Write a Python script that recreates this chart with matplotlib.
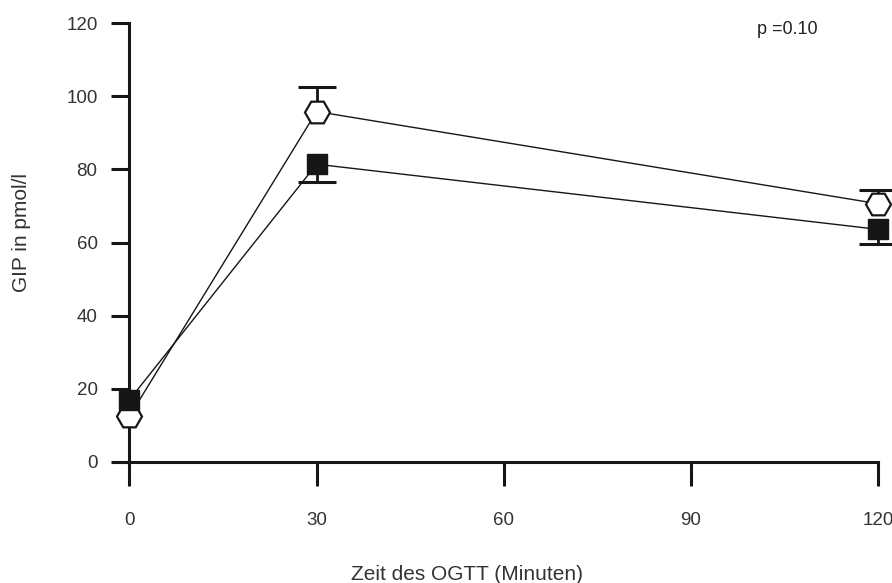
import numpy as np
import matplotlib.pyplot as plt

plt.rcParams['font.family'] = ['Liberation Sans', 'DejaVu Sans']

# OGTT time points (minutes)
zeit = [0, 30, 120]

# open hexagons
gip_open = [12.5, 95.8, 70.6]
err_open = [0.0, 6.8, 3.8]

# filled squares
gip_filled = [17.0, 81.4, 63.6]
err_filled = [0.0, 4.9, 4.0]

xticks = [0, 30, 60, 90, 120]
yticks = [0, 20, 40, 60, 80, 100, 120]

fig = plt.figure(figsize=(8.92, 5.83), dpi=100)
ax = fig.add_axes([117/892, 1 - 462/583, (878 - 117)/892, (462 - 23)/583])

ink = '#161616'

# one-sided error bars (no bar visible at t=0)
eb = ax.errorbar(zeit[1:], gip_open[1:], yerr=[np.zeros(2), err_open[1:]],
                 fmt='none', ecolor=ink, elinewidth=2.0, capsize=13.5,
                 capthick=2.2, clip_on=False, zorder=2)
eb[1][0].set_visible(False)
eb = ax.errorbar(zeit[1:], gip_filled[1:], yerr=[err_filled[1:], np.zeros(2)],
                 fmt='none', ecolor=ink, elinewidth=2.0, capsize=13.5,
                 capthick=2.2, clip_on=False, zorder=2)
eb[1][1].set_visible(False)

ax.plot(zeit, gip_open, color=ink, lw=1.0, marker='H', ms=18,
        mfc='white', mec=ink, mew=1.6, clip_on=False, zorder=3)
ax.plot(zeit, gip_filled, color=ink, lw=1.0, marker='s', ms=14.5,
        mfc=ink, mec=ink, mew=1.0, clip_on=False, zorder=4)

ax.set_xlim(-2, 120)
ax.set_ylim(0, 120)
ax.spines['left'].set_position(('data', 0))
ax.spines['right'].set_visible(False)
ax.spines['top'].set_visible(False)
for s in ['left', 'bottom']:
    ax.spines[s].set_linewidth(2.2)
    ax.spines[s].set_color(ink)

ax.set_xticks(xticks)
ax.set_yticks(yticks)
ax.tick_params(axis='x', length=17, width=2.2, color=ink, pad=19,
               labelsize=13.5, labelcolor='#333333')
ax.tick_params(axis='y', length=13, width=2.2, color=ink, pad=10,
               labelsize=13.5, labelcolor='#333333')

fig.text(467/892, 1 - 575/583, 'Zeit des OGTT (Minuten)', ha='center',
         va='center', fontsize=15, color='#333333')
fig.text(22/892, 1 - 232/583, 'GIP in pmol/l', ha='center', va='center',
         rotation=90, fontsize=15, color='#333333')
fig.text(757/892, 1 - 30/583, 'p =0.10', ha='left', va='center',
         fontsize=13, color='#222222')

fig.savefig('out.png', dpi=100)
